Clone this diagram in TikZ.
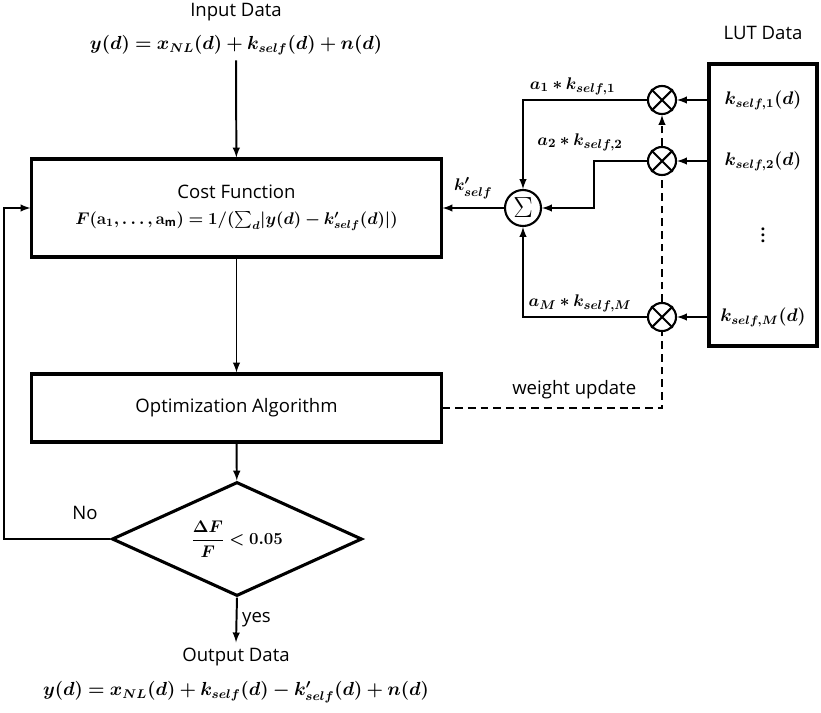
\documentclass[tikz,border=0pt]{standalone}
\usepackage{amsmath}
\usepackage{graphicx}
\usepackage{bm}
\usepackage{fontspec}
\setmainfont{Open Sans}
\usetikzlibrary{shapes.geometric}

\tikzset{
  blk/.style={draw,line width=2.2pt,minimum width=10.225cm,align=center},
  mult/.style={draw,circle,line width=1.5pt,fill=white,minimum size=0.7cm,inner sep=0pt},
  lbl/.style={inner sep=1pt,font=\fontsize{13}{15}\selectfont},
  eq/.style={font=\fontsize{12}{14}\selectfont},
  wdash/.style={dash pattern=on 5.5pt off 3.5pt},
}

\begin{document}
\begin{tikzpicture}[x=0.025cm,y=-0.025cm,>=latex,line width=1.4pt,
    font=\fontsize{13.2}{16}\selectfont]
  \useasboundingbox (0,0) rectangle (821,712);
  % main flow
  \node (inlbl) at (236,12) {Input Data};
  \node[eq] (inp) at (236,45) {\scalebox{1.12}{$\bm{y(d)=x_{NL}(d)+k_{self}(d)+n(d)}$}};
  \node[blk,minimum height=2.45cm] (cost) at (236.5,208)
    {Cost Function\\[2pt] {\fontsize{12}{14}\selectfont
     $\bm{F(\mathbf{a}_1,\ldots,\mathbf{a}_\mathrm{m})=1/({\textstyle\sum_d}|y(d)-k'_{self}(d)|)}$}};
  \node[blk,minimum height=1.7cm] (opt) at (236.5,408) {Optimization Algorithm};
  \node[draw,diamond,line width=2.2pt,aspect=2.19,minimum width=6.25cm,minimum height=2.85cm,inner sep=0pt]
    (dec) at (237,539) {$\bm{\dfrac{\Delta F}{F}<0.05}$};
  \node (outlbl) at (236,657) {Output Data};
  \node[eq] (out) at (236,692) {\scalebox{1.12}{$\bm{y(d)=x_{NL}(d)+k_{self}(d)-k'_{self}(d)+n(d)}$}};
  \coordinate (fb) at (4,0);

  \draw[->] (inp) -- (cost);
  \draw[->] (cost) -- (opt);
  \draw[->] (opt) -- (dec);
  \draw[->] (dec.south) -- node[right] {yes} (outlbl.north);
  \draw[->] (dec.west) -- (fb |- dec.west) |- (cost.west);
  \node (no) at (85,513) {No};

  % LUT side
  \node (lutlbl) at (763,33) {LUT Data};
  \node[draw,line width=2.2pt,minimum width=2.7cm,minimum height=7.05cm] (lut) at (763,205) {};
  \node[eq] (k1) at (763,100) {\scalebox{1.08}{$\bm{k_{self,1}(d)}$}};
  \node[eq] (k2) at (763,161) {\scalebox{1.08}{$\bm{k_{self,2}(d)}$}};
  \node[eq] (kd) at (763,231) {$\bm{\vdots}$};
  \node[eq] (kM) at (763,317) {\scalebox{1.08}{$\bm{k_{self,M}(d)}$}};

  \node[mult] (m1) at (662,100) {};
  \node[mult] (m2) at (662,161) {};
  \node[mult] (mM) at (662,317) {};
  \foreach \m in {m1,m2,mM}
    \draw[line width=1.5pt] (\m.north west) -- (\m.south east) (\m.north east) -- (\m.south west);
  \node[draw,circle,line width=1.5pt,minimum size=0.9cm,inner sep=0pt] (sum) at (523,208)
    {\fontsize{22}{22}\selectfont$\Sigma$};
  \coordinate (bend) at (594,0);

  \draw[->] (k1 -| lut.west) -- (m1);
  \draw[->] (k2 -| lut.west) -- (m2);
  \draw[->] (kM -| lut.west) -- (mM);
  \draw[->] (m1.west) -| node[lbl,above=2pt,pos=0.3] {$\bm{a_1*k_{self,1}}$} (sum.north);
  \draw[->] (m2.west) -- (m2.west -| bend) |- (sum.east);
  \node[lbl] (a2) at (580,142) {$\bm{a_2*k_{self,2}}$};
  \draw[->] (mM.west) -| node[lbl,above=2pt,pos=0.27] {$\bm{a_M*k_{self,M}}$} (sum.south);
  \draw[->] (sum.west) -- node[lbl,above=5pt] {$\bm{k'_{self}}$} (cost.east |- sum.west);

  % weight update
  \draw[wdash] (opt.east) -| node[lbl,above=5pt,pos=0.3,font=\fontsize{13.2}{16}\selectfont] {weight update} (mM.south);
  \draw[wdash] (mM.north) -- (m2.south);
  \draw[wdash,->] (m2.north) -- (m1.south);
\end{tikzpicture}
\end{document}
